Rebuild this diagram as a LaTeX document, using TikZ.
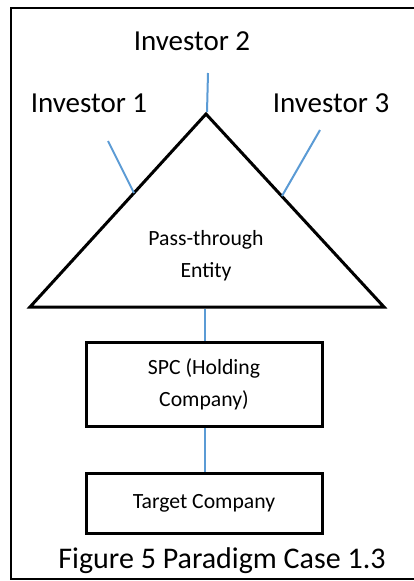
\documentclass[tikz,border=0pt]{standalone}
\usepackage{fontspec}
\setmainfont{Carlito}
\definecolor{linkblue}{RGB}{91,155,213}
\begin{document}
\begin{tikzpicture}[x=1pt,y=-1pt,
  link/.style={linkblue,line width=2pt},
  triline/.style={black,line width=3pt,line join=miter},
  bigtext/.style={font=\fontsize{29}{34}\selectfont,inner sep=0pt},
  smalltext/.style={font=\fontsize{21.7}{32}\selectfont,inner sep=0pt,align=center},
  entity/.style={draw,line width=3pt,minimum width=236pt,inner sep=0pt,align=center,font=\fontsize{21.7}{32}\selectfont}]
\useasboundingbox (0,0) rectangle (414,581);
\clip (0,0) rectangle (414,581);
\fill[white] (0,0) rectangle (414,581);
\draw[line width=2pt] (11,8) rectangle (430,579);
% triangle
\coordinate (apex) at (206,114);
\coordinate (bl) at (30,307);
\coordinate (br) at (384,307);
\draw[triline] (apex) -- (br) -- (bl) -- cycle;
\node[smalltext] (pte) at (206,256) {Pass-through\\Entity};
% investors
\node[bigtext] (inv1) at (89,103) {Investor 1};
\node[bigtext] (inv2) at (192,41) {Investor 2};
\node[bigtext] (inv3) at (331,103) {Investor 3};
\coordinate (i1s) at (108,141);
\coordinate (i1e) at (134,193);
\coordinate (i2s) at (208,73);
\coordinate (i2e) at (207,112);
\coordinate (i3s) at (320,130);
\coordinate (i3e) at (282,196);
\draw[link] (i1s) -- (i1e);
\draw[link] (i2s) -- (i2e);
\draw[link] (i3s) -- (i3e);
% boxes
\node[entity,minimum height=84pt] (spc) at (204,384) {SPC (Holding\\Company)};
\node[entity,minimum height=60pt] (target) at (204,503) {Target Company};
\coordinate (tb) at (205,308.5);
\draw[link] (tb) -- (spc.north -| tb);
\draw[link] (spc.south -| tb) -- (target.north -| tb);
% caption
\node[inner sep=0pt,font=\fontsize{30}{36}\selectfont] (cap) at (222,561) {Figure 5 Paradigm Case 1.3};
\end{tikzpicture}
\end{document}
